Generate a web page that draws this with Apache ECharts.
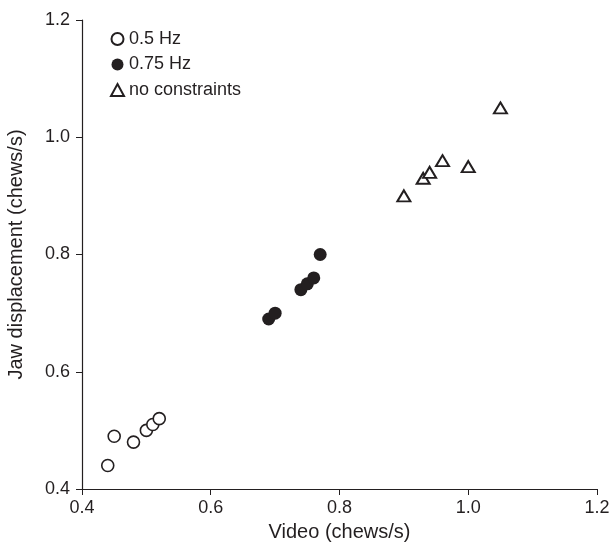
<!DOCTYPE html>
<html>
<head>
<meta charset="utf-8">
<script src="https://cdn.jsdelivr.net/npm/echarts@6/dist/echarts.min.js"></script>
<style>html,body{margin:0;padding:0;background:#fff}#c{width:610px;height:547px}</style>
</head>
<body>
<div id="c"></div>
<script>
const seriesNames = ['0.5 Hz', '0.75 Hz', 'no constraints'];
const hz05 = [[0.44,0.44],[0.45,0.49],[0.48,0.48],[0.50,0.50],[0.51,0.51],[0.52,0.52]];
const hz075 = [[0.69,0.69],[0.70,0.70],[0.74,0.74],[0.75,0.75],[0.76,0.76],[0.77,0.80]];
const noConstr = [[0.90,0.90],[0.93,0.93],[0.94,0.94],[0.96,0.96],[1.00,0.95],[1.05,1.05]];

const chart = echarts.init(document.getElementById('c'));
const font = 'Liberation Sans, Arial, sans-serif';
const ink = '#231f20';

chart.setOption({
  animation: false,
  grid: { left: 82, right: 13, top: 20, bottom: 58, outerBoundsMode: 'none', containLabel: false },
  legend: {
    orient: 'vertical', left: 105, top: 25,
    itemWidth: 13, itemHeight: 12, itemGap: 7.5,
    textStyle: { fontFamily: font, fontSize: 18, color: ink },
    data: seriesNames
  },
  xAxis: {
    type: 'value', min: 0.4, max: 1.2, interval: 0.2,
    name: 'Video (chews/s)', nameLocation: 'middle', nameGap: 33, nameMoveOverlap: false,
    nameTextStyle: { fontFamily: font, fontSize: 20, color: ink, verticalAlign: 'top' },
    axisLine: { show: true, lineStyle: { color: ink, width: 1.2 } },
    axisTick: { show: true, length: 6, lineStyle: { color: ink } },
    axisLabel: { fontFamily: font, fontSize: 18, color: ink, margin: 10, formatter: v => v.toFixed(1) },
    splitLine: { show: false }
  },
  yAxis: {
    type: 'value', min: 0.4, max: 1.2, interval: 0.2,
    name: 'Jaw displacement (chews/s)', nameLocation: 'middle', nameGap: 56, nameMoveOverlap: false,
    nameTextStyle: { fontFamily: font, fontSize: 20, color: ink },
    axisLine: { show: true, lineStyle: { color: ink, width: 1.2 } },
    axisTick: { show: true, length: 6, lineStyle: { color: ink } },
    axisLabel: { fontFamily: font, fontSize: 18, color: ink, margin: 12, formatter: v => v.toFixed(1) },
    splitLine: { show: false }
  },
  series: [
    { name: seriesNames[0], type: 'scatter', data: hz05, symbol: 'circle', symbolSize: 12,
      itemStyle: { color: '#fff', borderColor: ink, borderWidth: 1.6, opacity: 1 } },
    { name: seriesNames[1], type: 'scatter', data: hz075, symbol: 'circle', symbolSize: 13,
      itemStyle: { color: ink, opacity: 1 } },
    { name: seriesNames[2], type: 'scatter', data: noConstr, symbol: 'triangle', symbolSize: [13, 11],
      itemStyle: { color: '#fff', borderColor: ink, borderWidth: 2, opacity: 1 } }
  ]
});
</script>
</body>
</html>
